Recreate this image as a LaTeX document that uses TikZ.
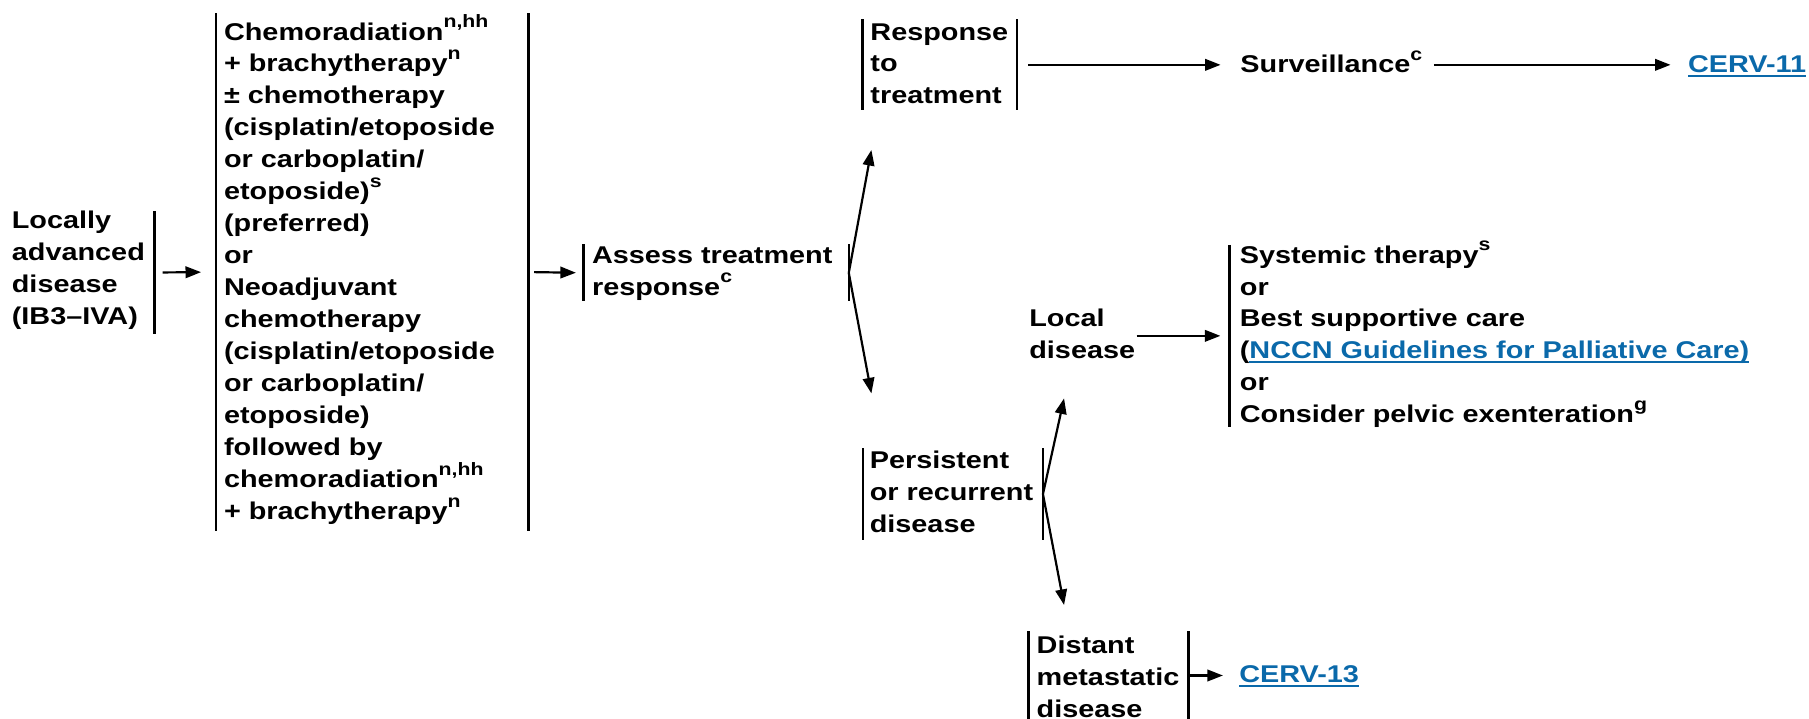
\documentclass[tikz,border=0pt]{standalone}
\usepackage{fontspec}
\setmainfont{Liberation Sans}[FakeStretch=1.19]
\usetikzlibrary{arrows.meta}
\definecolor{linkblue}{RGB}{10,105,170}
\newcommand\sps[1]{\raisebox{10.5pt}{\fontsize{15.5}{15.5}\selectfont #1}}
\newcommand\lnk[1]{{\color{linkblue}\setbox0\hbox{#1}\rlap{\rule[-3.6pt]{\wd0}{1.7pt}}\box0}}
\begin{document}
\begin{tikzpicture}[x=1pt,y=-1pt,
  txt/.style={anchor=base west, inner sep=0pt, align=left, font=\bfseries\fontsize{21}{27.7}\selectfont},
  frame/.style={inner sep=0pt, draw=none},
  bar/.style={line width=2pt},
  arr/.style={line width=1.9pt, -{Triangle[length=13.5pt,width=10pt]}}]
\useasboundingbox (0,0) rectangle (1568,623.2);

% frames
\node[frame, minimum width=129.8pt, minimum height=105.4pt] (locF) at (68.9,236.2) {};
\node[frame, minimum width=270.3pt, minimum height=448.4pt] (bigF) at (322.65,235.8) {};
\node[frame, minimum width=229.6pt, minimum height=49pt] (assessF) at (620.7,236.5) {};
\node[frame, minimum width=133.7pt, minimum height=78.4pt] (respF) at (814.55,56.2) {};
\node[frame, minimum width=494pt, minimum height=157.4pt] (optF) at (1313,291.1) {};
\node[frame, minimum width=155.4pt, minimum height=79.4pt] (persF) at (826.1,428.3) {};
\node[frame, minimum width=138.3pt, minimum height=76pt] (distF) at (960.75,585.5) {};

\draw[bar] (locF.north east) -- (locF.south east);
\draw[bar] (bigF.north west) -- (bigF.south west) (bigF.north east) -- (bigF.south east);
\draw[bar] (assessF.north west) -- (assessF.south west) (assessF.north east) -- (assessF.south east);
\draw[bar] (respF.north west) -- (respF.south west) (respF.north east) -- (respF.south east);
\draw[bar] (optF.north west) -- (optF.south west);
\draw[bar] (persF.north west) -- (persF.south west) (persF.north east) -- (persF.south east);
\draw[bar] (distF.north west) -- (distF.south west) (distF.north east) -- (distF.south east);

% texts (anchored at the baseline of their last line)
\node[txt] (loc) at (10.1,281) {Locally\\advanced\\disease\\(IB3–IVA)};
\node[txt] (big) at (194,450.2) {Chemoradiation\sps{n,hh}\\+ brachytherapy\sps{n}\\± chemotherapy\\(cisplatin/etoposide\\or carboplatin/\\etoposide)\sps{s}\\(preferred)\\or\\Neoadjuvant\\chemotherapy\\(cisplatin/etoposide\\or carboplatin/\\etoposide)\\followed by\\chemoradiation\sps{n,hh}\\+ brachytherapy\sps{n}};
\node[txt] (assess) at (513,255.7) {Assess treatment\\response\sps{c}};
\node[txt] (resp) at (754.3,90.1) {Response\\to\\treatment};
\node[txt] (surv) at (1075,63) {Surveillance\sps{c}};
\node[txt] (cerv11) at (1463,63) {\lnk{CERV-11}};
\node[txt] (local) at (892,310.7) {Local\\disease};
\node[txt] (opts) at (1074.5,366.5) {Systemic therapy\sps{s}\\or\\Best supportive care\\(\lnk{NCCN Guidelines for Palliative Care)}\\or\\Consider pelvic exenteration\sps{g}};
\node[txt] (pers) at (753.7,461.4) {Persistent\\or recurrent\\disease};
\node[txt] (dist) at (898.4,621.7) {Distant\\metastatic\\disease};
\node[txt] (cerv13) at (1074,592) {\lnk{CERV-13}};

% connectors
\coordinate (tipR) at (755.3,130);
\coordinate (tipP) at (755.3,341);
\coordinate (tipL) at (922.3,345.3);
\coordinate (tipD) at (922.3,524.4);
\draw[arr, shorten <=7pt, shorten >=13pt] (locF.east) -- (bigF.west);
\draw[arr, shorten <=5pt, shorten >=6.5pt] (bigF.east) -- (assessF.west);
\draw[arr] (assessF.east) -- (tipR);
\draw[arr] (assessF.east) -- (tipP);
\draw[arr, shorten <=9.6pt, shorten >=17pt] (respF.east) -- (respF.east -| surv.west);
\draw[arr, shorten <=10pt, shorten >=15pt] (surv.east |- respF.east) -- (cerv11.west |- respF.east);
\draw[arr, shorten <=1pt, shorten >=8pt] (local.east |- optF.west) -- (optF.west);
\draw[arr] (persF.east) -- (tipL);
\draw[arr] (persF.east) -- (tipD);
\draw[arr, shorten <=1.6pt, shorten >=14pt] (distF.east) -- (distF.east -| cerv13.west);
\end{tikzpicture}
\end{document}
